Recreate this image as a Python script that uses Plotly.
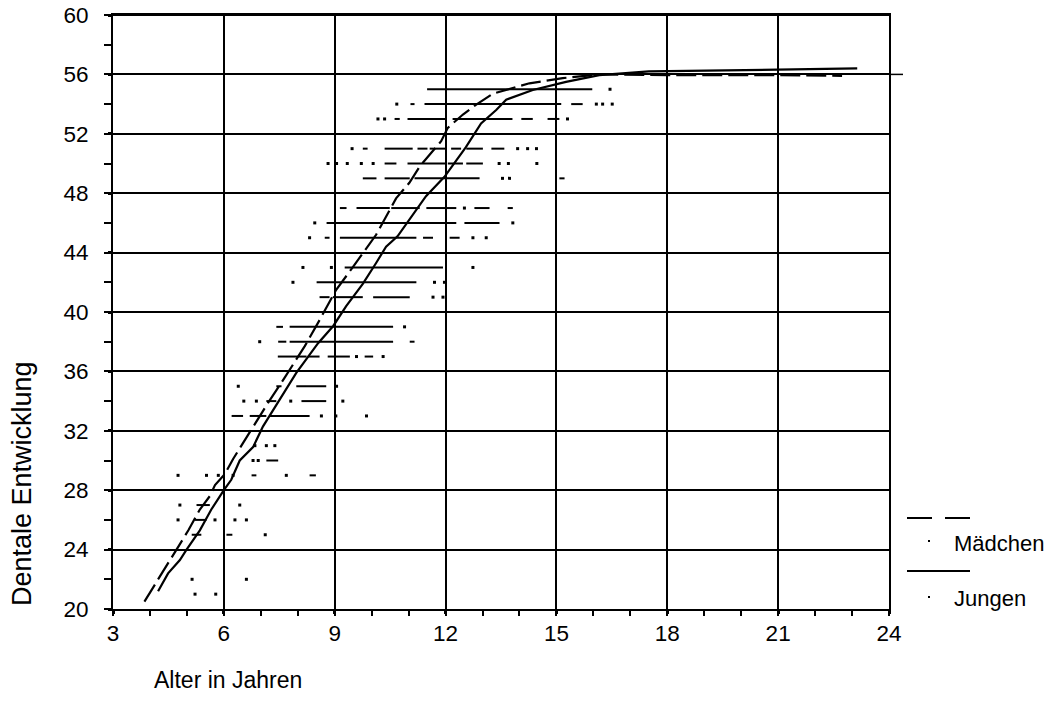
import plotly.graph_objects as go

# ---------------- data ----------------
# Mean curves
girls_age = [3.85, 4.27, 4.63, 5.04, 5.35, 5.62, 5.76, 6.03, 6.25, 6.52, 6.79, 7.2, 7.65, 8.19, 8.6, 9.04,
             9.5, 9.85, 10.12, 10.66, 11.02, 11.3, 11.48, 11.88, 12.06, 12.47, 12.82, 13.28, 14.27, 15.17,
             16.16, 18.0, 21.0, 22.73]
girls_score = [20.5, 22.2, 23.6, 25.3, 26.7, 27.6, 28.35, 29.1, 30.1, 31.2, 32.3, 33.9, 35.6, 37.7, 39.5, 41.5,
               43.05, 44.3, 45.2, 47.65, 48.7, 49.8, 50.35, 51.5, 52.4, 53.3, 53.95, 54.7, 55.4, 55.75,
               56.0, 55.95, 55.95, 55.9]

boys_age = [4.22, 4.49, 4.81, 4.99, 5.35, 5.66, 6.0, 6.2, 6.43, 6.79, 7.06, 7.5, 7.96, 8.55, 8.96, 9.31,
            9.76, 10.12, 10.39, 10.7, 11.47, 11.97, 12.55, 12.96, 13.37, 13.64, 14.36, 15.26, 16.16, 17.5,
            20.9, 23.14]
boys_score = [21.2, 22.4, 23.3, 24.0, 25.3, 26.7, 28.0, 28.7, 30.0, 30.9, 32.3, 34.1, 35.9, 37.9, 39.06, 40.4,
              41.9, 43.3, 44.4, 45.1, 47.8, 49.1, 51.1, 52.7, 53.6, 54.3, 54.95, 55.5, 55.95, 56.2,
              56.3, 56.4]

# Individual observations: isolated points
dot_score = [55,
             54, 54, 54, 54,
             53, 53, 53,
             51, 51, 51, 51,
             50, 50, 50, 50, 50, 50, 50, 50,
             49, 49,
             47,
             46, 46,
             45, 45, 45,
             43, 43, 43,
             42, 42, 42,
             41, 41,
             39,
             38,
             37, 37,
             35, 35,
             34, 34, 34, 34,
             33, 33, 33,
             31, 31, 31,
             30, 30,
             29, 29, 29, 29, 29,
             27, 27,
             26, 26, 26, 26,
             25,
             22, 22,
             21, 21]
dot_age = [16.45,
           10.68, 16.08, 16.25, 16.51,
           10.17, 10.35, 15.30,
           9.47, 13.95, 14.22, 14.46,
           8.82, 9.05, 9.34, 9.72, 10.04, 13.45, 13.70, 14.47,
           13.54, 13.73,
           12.51,
           8.46, 13.82,
           8.32, 12.74, 13.10,
           8.14, 8.91, 12.74,
           7.87, 11.70, 11.97,
           11.66, 11.93,
           10.89,
           6.97,
           9.59, 10.31,
           6.39, 9.05,
           6.54, 6.88, 7.81, 9.22,
           8.64, 9.03, 9.86,
           6.84, 7.15, 7.38,
           6.79, 6.93,
           4.76, 5.53, 5.85, 6.25, 7.69,
           4.81, 6.43,
           4.76, 5.76, 6.30, 6.61,
           7.12,
           5.14, 6.61,
           5.22, 5.78]

# Individual observations: dense runs of neighbouring points (from age, to age)
run_score = [55,
             54, 54, 54,
             53, 53, 53, 53, 53,
             51, 51, 51, 51, 51, 51, 51,
             50, 50, 50, 50,
             49, 49, 49, 49,
             47, 47, 47, 47, 47, 47,
             46, 46,
             45, 45, 45, 45,
             43,
             42,
             41, 41, 41,
             39, 39,
             38, 38, 38,
             37, 37, 37, 37,
             35, 35,
             34, 34,
             33, 33, 33,
             30,
             29, 29,
             27,
             26,
             25, 25]
run_from = [11.50,
            11.05, 11.43, 15.40,
            10.62, 10.97, 12.19, 14.05, 14.76,
            9.76, 10.35, 11.24, 11.57, 12.15, 12.56, 13.24,
            10.35, 10.97, 12.06, 12.56,
            9.76, 10.35, 11.16, 15.08,
            9.14, 9.59, 10.53, 11.48, 12.78, 13.68,
            8.78, 12.51,
            8.73, 9.14, 11.39, 12.11,
            9.27,
            8.51,
            8.59, 8.95, 10.04,
            7.42, 7.78,
            7.47, 7.78, 11.03,
            7.46, 8.27, 8.81, 9.81,
            7.42, 7.96,
            7.15, 8.10,
            6.21, 6.70, 7.24,
            7.15,
            6.75, 8.32,
            5.26,
            5.22,
            5.13, 6.07]
run_to = [15.97,
          11.16, 15.13, 15.71,
          10.76, 12.02, 13.81, 14.36, 15.08,
          9.89, 11.11, 11.51, 12.02, 12.42, 13.01, 13.59,
          10.67, 12.02, 12.47, 13.01,
          10.13, 11.03, 12.92, 15.22,
          9.32, 10.49, 11.30, 12.29, 13.19, 13.82,
          12.29, 13.46,
          8.86, 11.21, 11.66, 12.38,
          11.93,
          11.21,
          8.86, 9.76, 11.03,
          7.60, 10.58,
          7.69, 10.58, 11.16,
          8.24, 8.59, 9.41, 10.04,
          7.56, 8.77,
          7.42, 8.77,
          6.52, 7.15, 8.32,
          7.47,
          6.88, 8.49,
          5.62,
          5.53,
          5.39, 6.23]

x_ticks = [3, 6, 9, 12, 15, 18, 21, 24]
y_ticks = [20, 24, 28, 32, 36, 40, 44, 48, 52, 56, 60]
legend_names = ["Mädchen", "Jungen"]
x_title = "Alter in Jahren"
y_title = "Dentale Entwicklung"

# ---------------- figure ----------------
FONT = "Arial, 'Liberation Sans', sans-serif"
fig = go.Figure()

# runs of points as short horizontal strokes
rx, ry = [], []
for s, a0, a1 in zip(run_score, run_from, run_to):
    rx += [a0, a1, None]
    ry += [s, s, None]
fig.add_trace(go.Scatter(x=rx, y=ry, mode="lines", line=dict(color="black", width=2),
                         hoverinfo="skip", showlegend=False))
# isolated points
fig.add_trace(go.Scatter(x=dot_age, y=dot_score, mode="markers",
                         marker=dict(symbol="square", size=3, color="black", line=dict(width=0)),
                         showlegend=False))
# mean curves
fig.add_trace(go.Scatter(x=girls_age, y=girls_score, mode="lines", name=legend_names[0],
                         line=dict(color="black", width=2.2, dash="20px,6px"), showlegend=False))
fig.add_trace(go.Scatter(x=boys_age, y=boys_score, mode="lines", name=legend_names[1],
                         line=dict(color="black", width=2.2), showlegend=False))

# page geometry (page body margin is removed, so figure pixels == window pixels)
W, H = 1046, 713
PL, PR, PT, PB = 113, 889, 15, 609          # plot area in pixels
pw, ph = PR - PL, PB - PT


def px(xp):
    return (xp - PL) / pw


def py(yp):
    return (PB - yp) / ph


axis_common = dict(showgrid=True, gridcolor="black", gridwidth=2, showline=True, linecolor="black",
                   linewidth=2, mirror=True, ticks="outside", tickcolor="black", tickwidth=3,
                   zeroline=False, automargin=False, ticklabeloverflow="allow",
                   tickfont=dict(family=FONT, size=22.5, color="black"))

fig.update_xaxes(range=[3, 24], tickvals=x_ticks, ticklen=3, ticklabelstandoff=0,
                 minor=dict(dtick=1, ticks="outside", ticklen=5, tickwidth=2, tickcolor="black",
                            showgrid=False), **axis_common)
fig.update_yaxes(range=[20, 60], tickvals=y_ticks, ticklen=3, ticklabelstandoff=15,
                 minor=dict(dtick=2, ticks="outside", ticklen=7, tickwidth=2, tickcolor="black",
                            showgrid=False), **axis_common)

shapes = [
    # top border of the plot area
    dict(type="line", xref="paper", yref="y", x0=0, x1=1, y0=60, y1=60,
         line=dict(color="black", width=2)),
    # extension of the 56 line beyond the right border
    dict(type="line", xref="paper", yref="y", x0=1.0, x1=px(903), y0=56, y1=56,
         line=dict(color="black", width=1.5)),
    # legend samples
    dict(type="line", xref="paper", yref="paper", x0=px(907), x1=px(970), y0=py(518), y1=py(518),
         line=dict(color="black", width=2, dash="25px,13px")),
    dict(type="line", xref="paper", yref="paper", x0=px(907), x1=px(970), y0=py(571), y1=py(571),
         line=dict(color="black", width=2)),
    dict(type="rect", xref="paper", yref="paper", x0=px(928), x1=px(930), y0=py(542), y1=py(540),
         line=dict(width=0), fillcolor="black"),
    dict(type="rect", xref="paper", yref="paper", x0=px(928), x1=px(930), y0=py(598), y1=py(596),
         line=dict(width=0), fillcolor="black"),
]

annotations = [
    dict(text=legend_names[0], xref="paper", yref="paper", x=px(952), y=py(543), xanchor="left",
         yanchor="middle", showarrow=False, font=dict(family=FONT, size=22, color="black")),
    dict(text=legend_names[1], xref="paper", yref="paper", x=px(952), y=py(598), xanchor="left",
         yanchor="middle", showarrow=False, font=dict(family=FONT, size=22, color="black")),
    dict(text=x_title, xref="paper", yref="paper", x=px(152), y=py(680), xanchor="left",
         yanchor="middle", showarrow=False, font=dict(family=FONT, size=23, color="black")),
    dict(text=y_title, xref="paper", yref="paper", x=px(22), y=py(484), xanchor="center",
         yanchor="middle", textangle=-90, showarrow=False, font=dict(family=FONT, size=27, color="black")),
]

fig.update_layout(width=W, height=H,
                  margin=dict(l=PL, r=W - PR, t=PT, b=H - PB, pad=0, autoexpand=False),
                  plot_bgcolor="white", paper_bgcolor="white", showlegend=False,
                  font=dict(family=FONT, color="black"), shapes=shapes, annotations=annotations)

fig.write_html("out.html", config={"displayModeBar": False},
               post_script="document.body.style.margin='0';document.body.style.overflow='hidden';")
